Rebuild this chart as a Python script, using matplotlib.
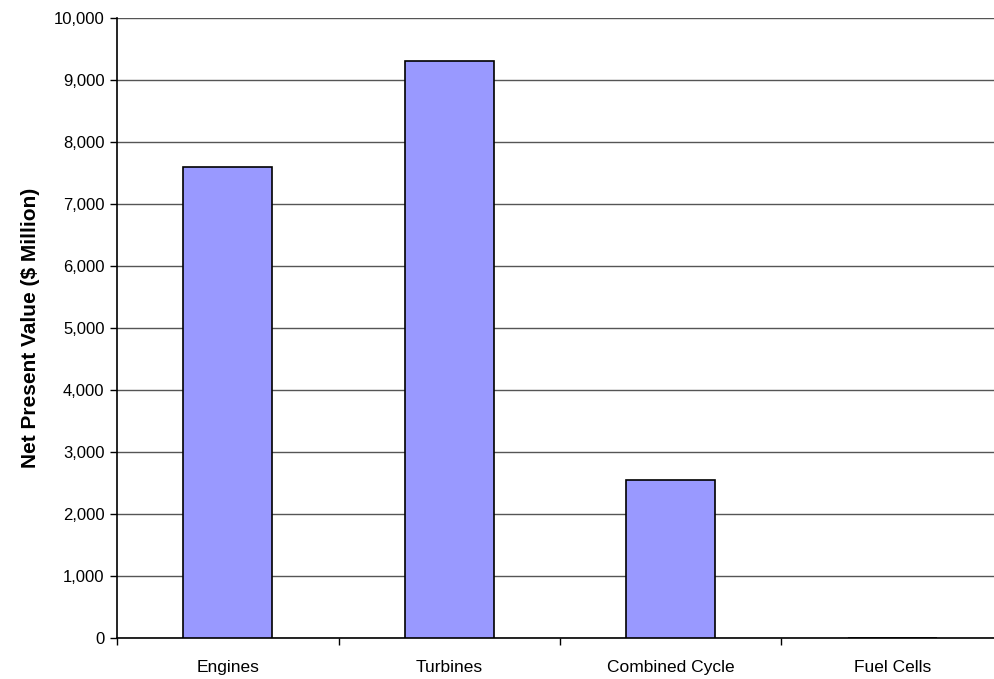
import matplotlib.pyplot as plt
from matplotlib.ticker import FuncFormatter, FixedLocator

categories = ["Engines", "Turbines", "Combined Cycle", "Fuel Cells"]
npv = [7600, 9300, 2550, 0]  # $ Million

plt.rcParams['font.family'] = ['Liberation Sans', 'DejaVu Sans']

fig = plt.figure(figsize=(9.94, 6.79), dpi=100)
ax = fig.add_axes([117 / 994, 1 - 637.7 / 679, 886 / 994, 619.7 / 679])

x = list(range(len(categories)))
ax.bar(x, npv, width=0.4, color='#9999FF', edgecolor='black', linewidth=1.2, zorder=3)

ax.set_xlim(-0.5, 3.5)
ax.set_ylim(0, 10000)
ax.set_yticks(range(0, 10001, 1000))
ax.yaxis.set_major_formatter(FuncFormatter(lambda v, p: f"{int(v):,}"))
ax.yaxis.grid(True, color='#555555', linewidth=1.0, zorder=0)
ax.set_axisbelow(True)

# category boundaries get the tick marks, names sit between them
ax.xaxis.set_major_locator(FixedLocator([i - 0.5 for i in range(len(categories) + 1)]))
ax.xaxis.set_major_formatter(FuncFormatter(lambda v, p: ""))
ax.xaxis.set_minor_locator(FixedLocator(x))
ax.set_xticklabels(categories, minor=True)
ax.tick_params(axis='x', which='minor', length=0, pad=16, labelsize=12.5)
ax.tick_params(axis='x', which='major', length=5, width=1, direction='out')
ax.tick_params(axis='y', length=5, width=1, direction='out', labelsize=12, pad=4)

for side in ('top', 'right'):
    ax.spines[side].set_visible(False)
for side in ('left', 'bottom'):
    ax.spines[side].set_color('black')
    ax.spines[side].set_linewidth(1.2)

ax.set_ylabel("Net Present Value ($ Million)", fontsize=15, fontweight='bold', labelpad=10)

fig.savefig("out.png", dpi=100)
